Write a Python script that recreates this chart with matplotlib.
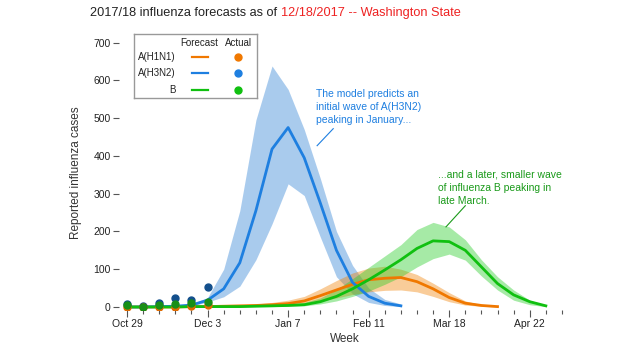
import matplotlib
matplotlib.use("Agg")
import matplotlib.pyplot as plt

plt.rcParams['font.family'] = ['Liberation Sans', 'DejaVu Sans']

# ---------- data (weeks since Oct 29, 2017) ----------
tick_weeks = [0, 5, 10, 15, 20, 25]
tick_labels = ['Oct 29', 'Dec 3', 'Jan 7', 'Feb 11', 'Mar 18', 'Apr 22']

obs_weeks = [0, 1, 2, 3, 4, 5]
h1n1_obs = [1, 0, 1, 1, 3, 5]
h3n2_obs = [7, 2, 11, 23, 18, 53]
b_obs = [5, 1, 5, 8, 10, 14]

h3n2_fc = [0, 0, 1, 2, 5, 18, 48, 117, 255, 418, 475, 395, 275, 150, 65, 28, 10, 3]
h3n2_lo = [0, 0, 0, 1, 3, 13, 27, 55, 125, 220, 326, 295, 185, 80, 35, 12, 4, 1]
h3n2_hi = [1, 1, 2, 4, 8, 25, 100, 255, 495, 638, 576, 470, 340, 200, 110, 50, 20, 8]

h1n1_fc = [0, 0, 0, 0, 1, 1, 2, 3, 4, 6, 9, 16, 30, 45, 60, 72, 76, 78, 67, 48, 25, 10, 4, 1]
h1n1_lo = [0, 0, 0, 0, 0, 0, 1, 1, 2, 3, 5, 8, 15, 24, 33, 40, 44, 45, 40, 28, 14, 5, 2, 0]
h1n1_hi = [0, 0, 0, 1, 2, 3, 4, 6, 8, 12, 18, 28, 48, 70, 90, 103, 108, 100, 86, 63, 38, 16, 6, 3]

b_fc = [0, 0, 0, 0, 1, 1, 1, 1, 2, 3, 4, 6, 14, 28, 48, 72, 98, 125, 155, 175, 173, 150, 106, 62, 32, 14, 3]
b_lo = [0, 0, 0, 0, 0, 0, 0, 0, 1, 1, 2, 3, 8, 16, 28, 42, 60, 80, 106, 128, 140, 124, 82, 45, 18, 6, 1]
b_hi = [1, 1, 1, 1, 2, 2, 3, 3, 4, 6, 8, 12, 24, 46, 75, 105, 135, 165, 205, 224, 212, 178, 125, 80, 45, 18, 5]

# colours
c_h1 = '#f07800'
c_h3 = '#1e7fe0'
c_b = '#10c010'
dot_h1 = '#e06a00'
dot_h3 = '#134f8c'
dot_b = '#178f17'

fig = plt.figure(figsize=(6.2, 3.5), dpi=100)
ax = fig.add_axes([119/620, 1-310/350, 451/620, 275/350])

for fc, lo, hi, col in [(h3n2_fc, h3n2_lo, h3n2_hi, '#2a7fd4'),
                        (h1n1_fc, h1n1_lo, h1n1_hi, '#f08000'),
                        (b_fc, b_lo, b_hi, '#22cc22')]:
    ax.fill_between(range(len(fc)), lo, hi, color=col, alpha=0.4, lw=0)

ax.plot(range(len(h1n1_fc)), h1n1_fc, color=c_h1, lw=2)
ax.plot(range(len(h3n2_fc)), h3n2_fc, color=c_h3, lw=2)
ax.plot(range(len(b_fc)), b_fc, color=c_b, lw=2)

ax.plot(obs_weeks, h3n2_obs, 'o', color=dot_h3, ms=5)
ax.plot(obs_weeks, h1n1_obs, 'o', color=dot_h1, ms=5)
ax.plot(obs_weeks, b_obs, 'o', color=dot_b, ms=5)

ax.set_xlim(-0.5, 27.5)
ax.set_ylim(-8, 720)
ax.set_xticks(tick_weeks)
ax.set_xticklabels(tick_labels)
ax.set_xticks(range(0, 28), minor=True)
ax.set_yticks(range(0, 701, 100))
for s in ax.spines.values():
    s.set_visible(False)
ax.tick_params(axis='both', which='major', labelsize=7.5, colors='#555555',
               labelcolor='#222222', length=4, width=0.8, pad=2)
ax.tick_params(axis='x', which='major', length=5, pad=1.5)
ax.tick_params(axis='x', which='minor', length=3, width=0.8, colors='#555555')
ax.set_xlabel('Week', fontsize=8.5, color='#333333', labelpad=3)
ax.set_ylabel('Reported influenza cases', fontsize=8.5, color='#333333', labelpad=8)

# annotations
ax.text(11.7, 578, 'The model predicts an\ninitial wave of A(H3N2)\npeaking in January...',
        color=c_h3, fontsize=7.5, va='top', linespacing=1.4)
ax.plot([11.8, 12.8], [427, 472], color=c_h3, lw=0.8)
ax.text(19.3, 364, '...and a later, smaller wave\nof influenza B peaking in\nlate March.',
        color='#1a9a1a', fontsize=7.5, va='top', linespacing=1.4)
ax.plot([19.8, 21.0], [212, 268], color='#1a9a1a', lw=0.8)

# legend box
lg = fig.add_axes([134/620, 1-98/350, 123/620, 64/350])
lg.set_xlim(0, 123)
lg.set_ylim(64, 0)
lg.set_xticks([])
lg.set_yticks([])
for s in lg.spines.values():
    s.set_color('#999999')
    s.set_linewidth(1)
lg.text(65, 9, 'Forecast', fontsize=7, ha='center', va='center', color='#222222')
lg.text(104, 9, 'Actual', fontsize=7, ha='center', va='center', color='#222222')
for y, name, lc in [(23, 'A(H1N1)', c_h1), (39, 'A(H3N2)', c_h3), (56, 'B', c_b)]:
    lg.text(42, y, name, fontsize=7, ha='right', va='center', color='#222222')
    lg.plot([58, 74], [y, y], color=lc, lw=1.6)
    lg.plot([104], [y], 'o', color=lc, ms=5)

# two-colour title
t1 = fig.text(90/620, 1-13/350, '2017/18 influenza forecasts as of ', fontsize=9.2,
              color='#222222', va='center', ha='left')
fig.canvas.draw()
bb = t1.get_window_extent()
fig.text(bb.x1/620, 1-13/350, '12/18/2017 -- Washington State', fontsize=9.2,
         color='#ee2222', va='center', ha='left')

fig.savefig('out.png', dpi=100)
